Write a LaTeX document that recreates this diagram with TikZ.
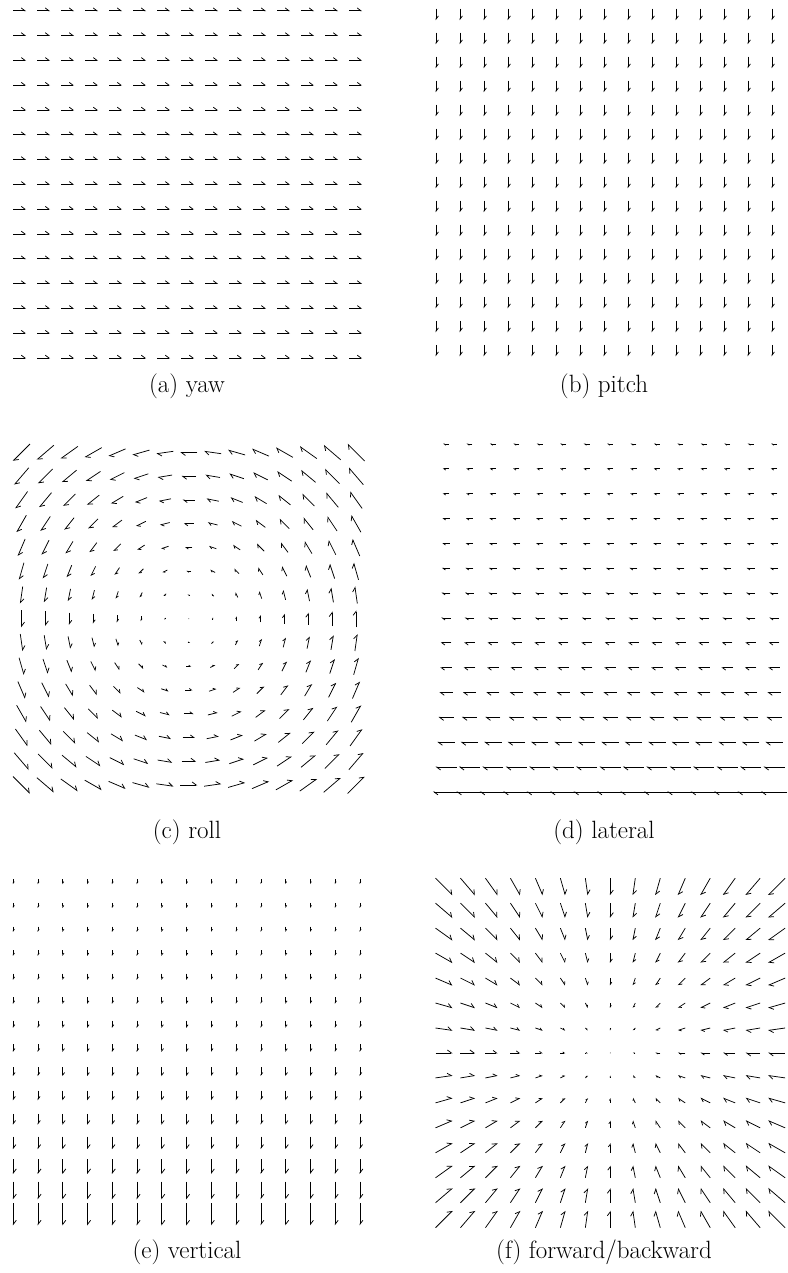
\documentclass[tikz,border=0pt]{standalone}
\usepackage{fontspec}
\usetikzlibrary{arrows.meta}
\tikzset{
  vec/.style={line width=0.75pt, black},
  captxt/.style={font=\fontsize{25}{30}\selectfont, inner sep=0pt, anchor=base}
}
\newcommand{\drawfield}[6]{%
 \foreach \ii in {0,...,14}{\foreach \jj in {0,...,14}{%
   \pgfmathsetmacro\uu{(\ii-7)/7}%
   \pgfmathsetmacro\vv{(7-\jj)/7}%
   \pgfmathsetmacro\vxx{#5}%
   \pgfmathsetmacro\vyy{#6}%
   \pgfmathsetmacro\cx{#1+\ii*#2}%
   \pgfmathsetmacro\cy{#3+\jj*#4}%
   \pgfmathsetmacro\ax{\cx-\vxx/2}%
   \pgfmathsetmacro\ay{\cy-\vyy/2}%
   \pgfmathsetmacro\bx{\cx+\vxx/2}%
   \pgfmathsetmacro\by{\cy+\vyy/2}%
   \pgfmathsetmacro\len{veclen(\vxx,\vyy)}%
   \pgfmathsetmacro\hl{min(4,0.28*\len)}%
   \pgfmathsetmacro\hw{1.5*\hl}%
   \ifdim\len pt<1.2pt
     \fill (\cx,\cy) circle (0.45);
   \else
     \draw[vec, -{Straight Barb[left,length=\hl pt,width=\hw pt]}] (\ax,\ay) -- (\bx,\by);
   \fi
 }}}
\begin{document}
\begin{tikzpicture}[x=1pt,y=-1pt]
\useasboundingbox (0,0) rectangle (787,1273);
% (a) yaw
\drawfield{19.5}{24}{10.7}{24.8}{13}{0}
% (b) pitch
\drawfield{436}{24}{14.5}{24.0}{0}{11.5}
% (c) roll
\drawfield{21.5}{23.9}{452.5}{23.75}{-17*\vv}{-17*\uu}
% (d) lateral
\drawfield{446}{23.43}{444}{24.85}{-105/(18-\jj)}{0}
% (e) vertical
\drawfield{13.3}{24.76}{881.7}{23.75}{0}{85/(17.8-\jj)}
% (f) forward/backward
\drawfield{444}{23.76}{886.7}{23.75}{-17*\uu}{17*\vv}
\node[captxt] (ca) at (187,392) {(a) yaw};
\node[captxt] (cb) at (604,392) {(b) pitch};
\node[captxt] (cc) at (187,838) {(c) roll};
\node[captxt] (cd) at (604,838) {(d) lateral};
\node[captxt] (ce) at (187,1258) {(e) vertical};
\node[captxt] (cf) at (604,1258) {(f) forward/backward};
\end{tikzpicture}
\end{document}
